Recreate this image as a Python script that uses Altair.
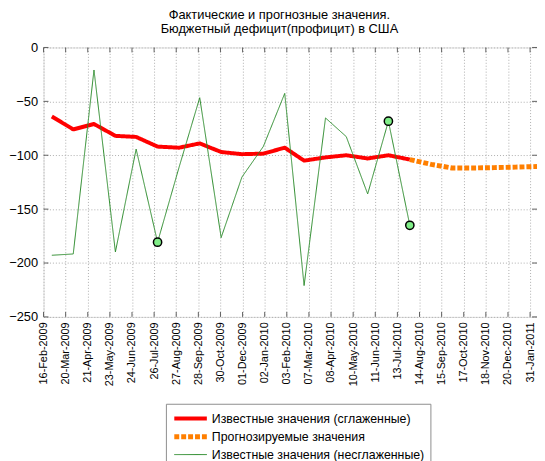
import altair as alt
import pandas as pd

title_lines = ["Фактические и прогнозные значения.", "Бюджетный дефицит(профицит) в США"]
series_names = ["Известные значения (сглаженные)", "Прогнозируемые значения",
                "Известные значения (несглаженные)"]

actual_dates = ["2009-02-28", "2009-03-31", "2009-04-30", "2009-05-31", "2009-06-30", "2009-07-31",
                "2009-08-31", "2009-09-30", "2009-10-31", "2009-11-30", "2009-12-31", "2010-01-31",
                "2010-02-28", "2010-03-31", "2010-04-30", "2010-05-31", "2010-06-30", "2010-07-31"]
raw_values = [-192.8, -191.6, -20.9, -189.7, -94.3, -180.7, -111.4, -46.6, -176.4, -120.3,
              -91.9, -42.6, -220.9, -65.4, -82.7, -135.9, -68.4, -165.0]
smooth_values = [-64, -76, -71, -82, -83, -92, -93, -89, -97, -99, -98.5, -93, -105, -102,
                 -100, -103, -100, -104]
forecast_dates = ["2010-07-31", "2010-08-31", "2010-09-30", "2010-10-31", "2010-11-30",
                  "2010-12-31", "2011-01-31"]
forecast_values = [-104, -108.5, -111.8, -111.8, -111.5, -111, -110.5]
highlight_dates = ["2009-07-31", "2010-06-30", "2010-07-31"]
highlight_values = [-180.7, -68.4, -165.0]

tick_labels = ["16-Feb-2009", "20-Mar-2009", "21-Apr-2009", "23-May-2009", "24-Jun-2009",
               "26-Jul-2009", "27-Aug-2009", "28-Sep-2009", "30-Oct-2009", "01-Dec-2009",
               "02-Jan-2010", "03-Feb-2010", "07-Mar-2010", "08-Apr-2010", "10-May-2010",
               "11-Jun-2010", "13-Jul-2010", "14-Aug-2010", "15-Sep-2010", "17-Oct-2010",
               "18-Nov-2010", "20-Dec-2010", "31-Jan-2011"]
y_ticks = [0, -50, -100, -150, -200, -250]

DAY = 86400000
STEP = 32 * DAY
t0 = int(pd.Timestamp("2009-02-16", tz="UTC").value // 10**6)
t_end = int(pd.Timestamp("2011-01-31", tz="UTC").value // 10**6)
tick_values = [t0 + k * STEP for k in range(len(tick_labels))]

lines = pd.concat([
    pd.DataFrame({"date": actual_dates, "value": smooth_values, "series": series_names[0]}),
    pd.DataFrame({"date": forecast_dates, "value": forecast_values, "series": series_names[1]}),
    pd.DataFrame({"date": actual_dates, "value": raw_values, "series": series_names[2]}),
], ignore_index=True)
points = pd.DataFrame({"date": highlight_dates, "value": highlight_values})
xticks_df = pd.DataFrame({"date": tick_values})
yticks_df = pd.DataFrame({"value": y_ticks})

FONT = "Liberation Sans"
W, H = 500, 273
GRID = "#adadad"

label_arr = "[" + ",".join("'" + s + "'" for s in tick_labels) + "]"
label_expr = label_arr + "[round((datum.value - " + str(t0) + ") / " + str(STEP) + ")]"

x_enc = alt.X("date:T", scale=alt.Scale(type="utc", domain=[t0, t_end]),
              axis=alt.Axis(values=tick_values, labelExpr=label_expr, labelAngle=270,
                            labelFontSize=11, labelFont=FONT, labelColor="black",
                            labelOverlap=False, labelFlush=False, labelPadding=5,
                            ticks=False, domain=False, grid=True, gridColor=GRID,
                            gridWidth=1, gridOpacity=1, gridDash=[1, 2], title=None))
y_enc = alt.Y("value:Q", scale=alt.Scale(domain=[-250, 0], nice=False),
              axis=alt.Axis(values=y_ticks, labelFontSize=13, labelFont=FONT, labelColor="black",
                            labelPadding=6, ticks=False, domain=False, grid=True,
                            gridColor=GRID, gridWidth=1, gridOpacity=1, gridDash=[1, 2],
                            title=None))

line_layer = alt.Chart(lines).mark_line(strokeCap="butt", strokeJoin="round").encode(
    x=x_enc, y=y_enc,
    color=alt.Color("series:N", scale=alt.Scale(domain=series_names,
                                                range=["#ff0000", "#ff7f00", "#2b8a2b"]),
                    legend=alt.Legend(title=None, orient="none", legendX=124, legendY=361,
                                      direction="vertical", strokeColor="#8c8c8c",
                                      fillColor="white", padding=6, labelFont=FONT,
                                      labelFontSize=12.5, labelColor="black", labelLimit=0,
                                      symbolType="M-1,0H3.71", symbolSize=196, rowPadding=0,
                                      labelOffset=21.5)),
    strokeWidth=alt.StrokeWidth("series:N", scale=alt.Scale(type="ordinal", domain=series_names,
                                                            range=[4, 5, 1])),
    strokeDash=alt.StrokeDash("series:N", scale=alt.Scale(domain=series_names,
                                                          range=[[1, 0], [5, 2], [1, 0]])),
)

point_layer = alt.Chart(points).mark_circle(size=70, fill="#80ee88", stroke="black",
                                            strokeWidth=1.5, opacity=1).encode(x=x_enc, y=y_enc)

tick_color = "#606060"
top_ticks = alt.Chart(xticks_df).mark_rule(color=tick_color).encode(
    x=x_enc, y=alt.value(0), y2=alt.value(5))
bottom_ticks = alt.Chart(xticks_df).mark_rule(color=tick_color).encode(
    x=x_enc, y=alt.value(H - 5), y2=alt.value(H))
left_ticks = alt.Chart(yticks_df).mark_rule(color=tick_color).encode(
    y=y_enc, x=alt.value(0), x2=alt.value(5))
right_ticks = alt.Chart(yticks_df).mark_rule(color=tick_color).encode(
    y=y_enc, x=alt.value(W - 5), x2=alt.value(W))

chart = alt.layer(top_ticks, bottom_ticks, left_ticks, right_ticks, line_layer, point_layer).properties(
    width=W, height=H,
    title=alt.TitleParams(text=title_lines, font=FONT, fontSize=13, fontWeight="normal",
                          color="black", anchor="middle", offset=6, dx=-11, lineHeight=14),
    autosize=alt.AutoSizeParams(type="none"),
    padding={"left": 36, "top": 37, "right": 0, "bottom": 143},
).configure_view(stroke="#a0a0a0", strokeWidth=1).configure(background="white")

chart.save("out.html", embed_options={"renderer": "svg", "actions": False})
